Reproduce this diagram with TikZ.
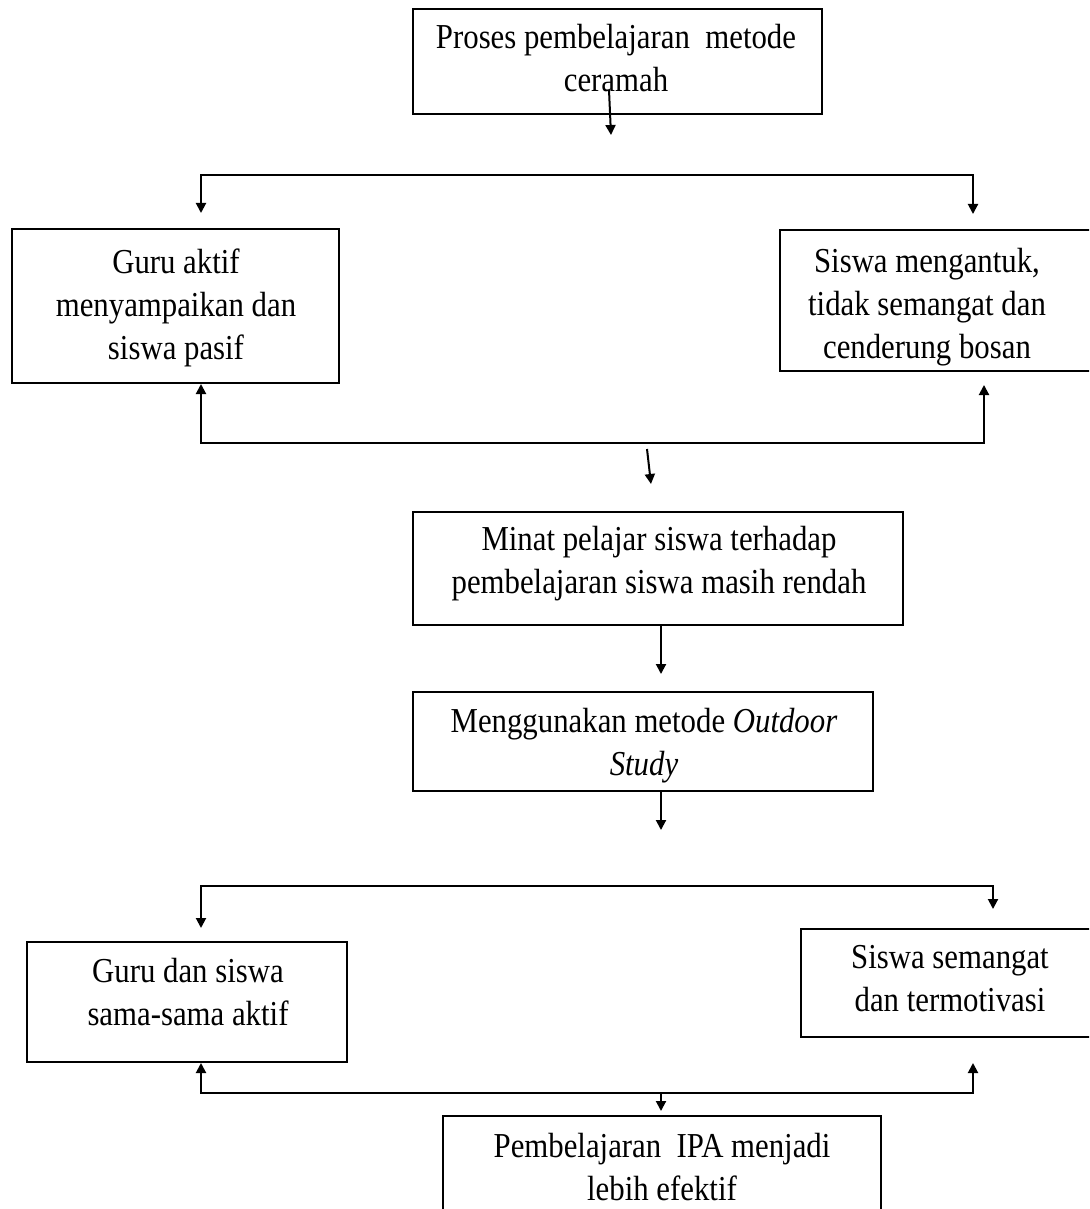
\documentclass[tikz,border=0pt]{standalone}
\usepackage{fontspec}
\setmainfont{Liberation Serif}[FakeStretch=0.88]
\usetikzlibrary{arrows.meta,fit}
\begin{document}
\begin{tikzpicture}[x=0.5pt,y=-0.5pt,
  box/.style={draw, line width=1pt, inner sep=0pt},
  txt/.style={align=center, inner sep=0pt, anchor=north, font=\fontsize{17.5pt}{21.5pt}\selectfont},
  wire/.style={line width=1pt},
  link/.style={line width=1pt, -{Triangle[width=5pt,length=5pt]}},
  dbl/.style={line width=1pt, {Triangle[width=5pt,length=5pt]}-{Triangle[width=5pt,length=5pt]}}]
\useasboundingbox (0,0) rectangle (1089,1209);
\clip (0,0) rectangle (1089,1209);
% boxes
\node[box, fit={(413,9) (822,114)}] (top) {};
\node[box, fit={(12,229) (339,383)}] (gaktif) {};
\node[box, fit={(780,230) (1100,371)}] (sngantuk) {};
\node[box, fit={(413,512) (903,625)}] (minat) {};
\node[box, fit={(413,692) (873,791)}] (outdoor) {};
\node[box, fit={(27,942) (347,1062)}] (gdan) {};
\node[box, fit={(801,929) (1100,1037)}] (ssemangat) {};
\node[box, fit={(443,1116) (881,1240)}] (efektif) {};
% texts
\node[txt] (ttop) at (616,24) {Proses pembelajaran\ \ metode\\ceramah};
\node[txt] (tgaktif) at (176,248) {Guru aktif\\menyampaikan dan\\siswa pasif};
\node[txt] (tsngantuk) at (927,248) {Siswa mengantuk,\\tidak semangat dan\\cenderung bosan};
\node[txt] (tminat) at (659,526) {Minat pelajar siswa terhadap\\pembelajaran siswa masih rendah};
\node[txt] (toutdoor) at (644,708) {Menggunakan metode \textit{Outdoor}\\\textit{Study}};
\node[txt] (tgdan) at (188,958) {Guru dan siswa\\sama-sama aktif};
\node[txt] (tssemangat) at (950,945) {Siswa semangat\\dan termotivasi};
\node[txt] (tefektif) at (662,1133) {Pembelajaran\ \ IPA menjadi\\lebih efektif};
% connector coordinates
\coordinate (a0) at (609,90);
\coordinate (a1) at (611,135);
\coordinate (d1) at (201,213);
\coordinate (s1L) at (201,175);
\coordinate (s1R) at (973,175);
\coordinate (d2) at (973,214);
\coordinate (u1) at (201,384);
\coordinate (m1L) at (201,443);
\coordinate (m1R) at (984,443);
\coordinate (u2) at (984,385);
\coordinate (b0) at (647,449);
\coordinate (b1) at (651,484);
\coordinate (c0) at (661,625);
\coordinate (c1) at (661,674);
\coordinate (e0) at (661,791);
\coordinate (e1) at (661,830);
\coordinate (d3) at (201,928);
\coordinate (s2L) at (201,886);
\coordinate (s2R) at (993,886);
\coordinate (d4) at (993,909);
\coordinate (u3) at (201,1063);
\coordinate (m2L) at (201,1093);
\coordinate (m2R) at (973,1093);
\coordinate (u4) at (973,1063);
\coordinate (f0) at (661,1093);
\coordinate (f1) at (661,1111);
% connectors
\draw[link] (a0) -- (a1);
\draw[dbl] (d1) -- (s1L) -- (s1R) -- (d2);
\draw[dbl] (u1) -- (m1L) -- (m1R) -- (u2);
\draw[link] (b0) -- (b1);
\draw[link] (c0) -- (c1);
\draw[link] (e0) -- (e1);
\draw[dbl] (d3) -- (s2L) -- (s2R) -- (d4);
\draw[dbl] (u3) -- (m2L) -- (m2R) -- (u4);
\draw[link] (f0) -- (f1);
\end{tikzpicture}
\end{document}
